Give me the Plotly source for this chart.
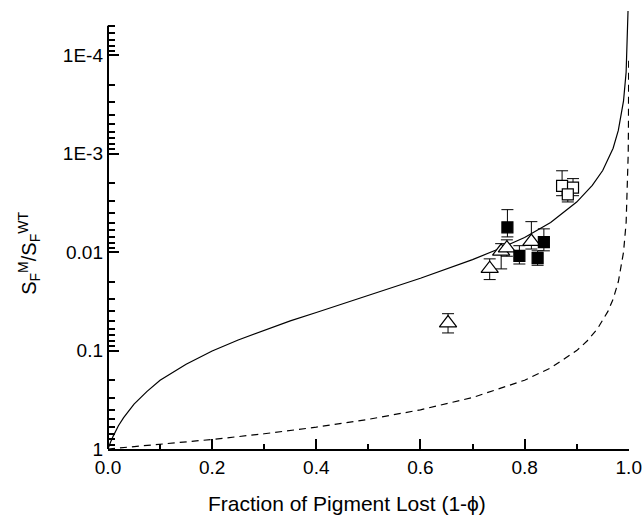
import plotly.graph_objects as go
import numpy as np

# ---- data ----
# solid theoretical curve
solid_x = [0, 0.002, 0.005, 0.01, 0.02, 0.03, 0.05, 0.075, 0.1, 0.15, 0.2, 0.25, 0.3, 0.35,
           0.4, 0.5, 0.6, 0.7, 0.75, 0.8, 0.85, 0.9, 0.93, 0.95, 0.97, 0.98, 0.99, 0.995,
           0.998, 0.9993]
solid_y = [1.0, 0.93, 0.85, 0.74, 0.58, 0.48, 0.35, 0.26, 0.20, 0.138, 0.101, 0.078, 0.062,
           0.050, 0.041, 0.0274, 0.0184, 0.0119, 0.0093, 0.0071, 0.0050, 0.0031, 0.0021,
           0.00148, 0.00088, 0.00058, 0.00029, 0.000148, 0.00006, 0.000027]

# dashed theoretical curve
dash_x = [0, 0.1, 0.2, 0.3, 0.4, 0.5, 0.6, 0.7, 0.8, 0.85, 0.9, 0.92, 0.94, 0.96, 0.97,
          0.98, 0.99, 0.995, 0.998, 0.999, 0.9995, 0.99989]
dash_y = [1.0, 0.9, 0.8, 0.7, 0.6, 0.5, 0.4, 0.3, 0.2, 0.15, 0.1, 0.08, 0.06, 0.04, 0.03,
          0.02, 0.01, 0.005, 0.002, 0.001, 0.0005, 0.00011]

# filled squares
fsq_x = [0.767, 0.790, 0.825, 0.837]
fsq_y = [0.0056, 0.0109, 0.0115, 0.0079]
fsq_lo = [0.0037, 0.0086, 0.0097, 0.0058]
fsq_hi = [0.0070, 0.0132, 0.0136, 0.0097]

# open triangles
tri_x = [0.653, 0.733, 0.755, 0.766, 0.813]
tri_y = [0.0525, 0.0147, 0.0098, 0.0091, 0.0078]
tri_lo = [0.0422, 0.0117, 0.0082, 0.0075, 0.0049]
tri_hi = [0.0662, 0.0190, 0.0148, 0.0110, 0.0093]

# open squares
osq_x = [0.872, 0.893, 0.883]
osq_y = [0.00212, 0.00221, 0.00259]
osq_lo = [0.00149, 0.00179, 0.00210]
osq_hi = [0.00267, 0.00267, 0.00309]

y_tickvals = [1, 0.1, 0.01, 1e-3, 1e-4]
y_ticktext = ["1", "0.1", "0.01", "1E-3", "1E-4"]
x_tickvals = [0.0, 0.2, 0.4, 0.6, 0.8, 1.0]
x_ticktext = ["0.0", "0.2", "0.4", "0.6", "0.8", "1.0"]

y_minor = [m * 10.0 ** e for e in range(-1, -5, -1) for m in range(2, 10)] + [m * 1e-5 for m in range(5, 10)]
x_minor = [0.1, 0.3, 0.5, 0.7, 0.9]

FONT = "Liberation Sans, Arial, Helvetica, sans-serif"
Y_TOP = -4.45          # log10 of the top of the plotting area
Y_AXIS_END = np.log10(5e-5)

fig = go.Figure()
fig.add_trace(go.Scatter(x=solid_x, y=solid_y, mode="lines",
                         line=dict(color="black", width=1.2), showlegend=False))
fig.add_trace(go.Scatter(x=dash_x, y=dash_y, mode="lines",
                         line=dict(color="black", width=1.2, dash="7px,5px"), showlegend=False))


def err(y, lo, hi):
    return ([h - v for v, h in zip(y, hi)], [v - l for v, l in zip(y, lo)])


for xs, ys, lo, hi, sym, fill, size in [
    (tri_x, tri_y, tri_lo, tri_hi, "triangle-up", "white", 15),
    (fsq_x, fsq_y, fsq_lo, fsq_hi, "square", "black", 11),
    (osq_x, osq_y, osq_lo, osq_hi, "square", "white", 11),
]:
    plus, minus = err(ys, lo, hi)
    fig.add_trace(go.Scatter(
        x=xs, y=ys, mode="markers", showlegend=False,
        marker=dict(symbol=sym, size=size, color=fill, line=dict(color="black", width=1.2)),
        error_y=dict(type="data", array=plus, arrayminus=minus, color="black",
                     thickness=1, width=6),
    ))

fig.update_layout(
    width=642, height=515,
    margin=dict(l=108, r=13, t=11, b=66, autoexpand=False),
    paper_bgcolor="white", plot_bgcolor="white",
    font=dict(family=FONT, size=19, color="black"),
    xaxis=dict(range=[0, 1.0005], showgrid=False, zeroline=False, automargin=False,
               showline=True, linecolor="black", linewidth=2,
               ticks="inside", ticklen=10, tickwidth=2, tickcolor="black",
               tickvals=x_tickvals, ticktext=x_ticktext, ticklabeloverflow="allow",
               minor=dict(tickmode="array", tickvals=x_minor, ticks="inside",
                          ticklen=5, tickwidth=1.5, tickcolor="black", showgrid=False)),
    yaxis=dict(type="log", range=[0, Y_TOP], showgrid=False, zeroline=False, automargin=False,
               showline=False,
               ticks="inside", ticklen=11, tickwidth=2, tickcolor="black",
               tickvals=y_tickvals, ticktext=y_ticktext, ticklabelstandoff=4,
               minor=dict(tickmode="array", tickvals=y_minor, ticks="inside",
                          ticklen=7, tickwidth=1.5, tickcolor="black", showgrid=False)),
)

# y axis line only spans 1 .. 5E-5
fig.add_shape(type="line", xref="paper", x0=0, x1=0, yref="paper",
              y0=0, y1=Y_AXIS_END / Y_TOP, line=dict(color="black", width=2), layer="above")

fig.add_annotation(text="Fraction of Pigment Lost (1-\u03d5)", xref="paper", yref="paper",
                   x=0.4587, y=-0.125, xanchor="center", yanchor="middle",
                   showarrow=False, font=dict(family=FONT, size=21, color="black"))
fig.add_annotation(text="S<sub>F</sub><sup>M</sup>/S<sub>F</sub><sup>WT</sup>",
                   xref="paper", yref="paper", x=-0.15, y=0.4475,
                   xanchor="center", yanchor="middle", textangle=-90,
                   showarrow=False, font=dict(family=FONT, size=20, color="black"))

fig.write_html("out.html")
